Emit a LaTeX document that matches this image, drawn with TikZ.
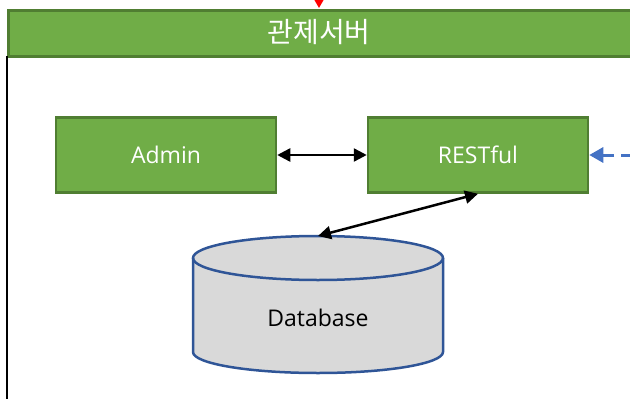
\documentclass[tikz,border=0pt]{standalone}
\usepackage{fontspec}
\setmainfont{Open Sans}
\newfontfamily\krfont{Noto Sans CJK KR}
\usetikzlibrary{arrows.meta,shapes.geometric}
\definecolor{boxgreen}{HTML}{70AD47}
\definecolor{boxedge}{HTML}{507E32}
\definecolor{dbfill}{HTML}{D9D9D9}
\definecolor{dbedge}{HTML}{2F5597}
\definecolor{linkblue}{HTML}{4472C4}
\tikzset{
  greenbox/.style={draw=boxedge, line width=2.5pt, fill=boxgreen, text=white,
    minimum width=220pt, minimum height=75pt, inner sep=0pt,
    font=\fontsize{23}{26}\selectfont},
  link/.style={black, line width=2.5pt, {Triangle[length=13pt,width=13pt]}-{Triangle[length=13pt,width=13pt]}},
}
\begin{document}
\begin{tikzpicture}[x=1pt,y=-1pt]
\useasboundingbox (0,0) rectangle (630,399);
% header bar of the control server
\node[draw=boxedge, line width=3pt, fill=boxgreen, anchor=north west,
  minimum width=640pt, minimum height=46pt, inner sep=0pt] (bar) at (7,8.5) {};
\node[text=white, font=\krfont\fontsize{28}{30}\selectfont] (title) at (319,32) {관제서버};
% left frame line
\coordinate (ftop) at (7,56);
\coordinate (fbot) at (7,399);
\draw[black, line width=2.5pt] (ftop) -- (fbot);
% incoming arrow from above
\coordinate (redtop) at (319,-2);
\coordinate (redend) at (319,8);
\draw[red, line width=2pt, -{Triangle[length=10pt,width=11pt]}] (redtop) -- (redend);
% server components
\node[greenbox] (admin) at (166,155) {Admin};
\node[greenbox] (rest) at (478,155) {RESTful};
\draw[link] (admin.east) -- (rest.west);
% external dashed link
\coordinate (ext) at (632,155);
\draw[linkblue, line width=3pt, dash pattern=on 11pt off 7pt,
  -{Triangle[length=14pt,width=15pt]}] (ext) -- (rest.east);
% database cylinder
\begin{scope}
  \fill[dbfill] (193,258) -- (193,352) arc[start angle=180, end angle=0, x radius=125, y radius=21]
    -- (443,258) arc[start angle=0, end angle=-180, x radius=125, y radius=22] -- cycle;
  \draw[dbedge, line width=2.5pt] (193,258) -- (193,352) arc[start angle=180, end angle=0, x radius=125, y radius=21] -- (443,258);
  \draw[dbedge, line width=2.5pt] (318,258) ellipse[x radius=125, y radius=22];
\end{scope}
\node[font=\fontsize{23}{26}\selectfont, text=black] (db) at (318,318) {Database};
\coordinate (dbtop) at (318,236);
\draw[link] (rest.south) -- (dbtop);
\end{tikzpicture}
\end{document}
